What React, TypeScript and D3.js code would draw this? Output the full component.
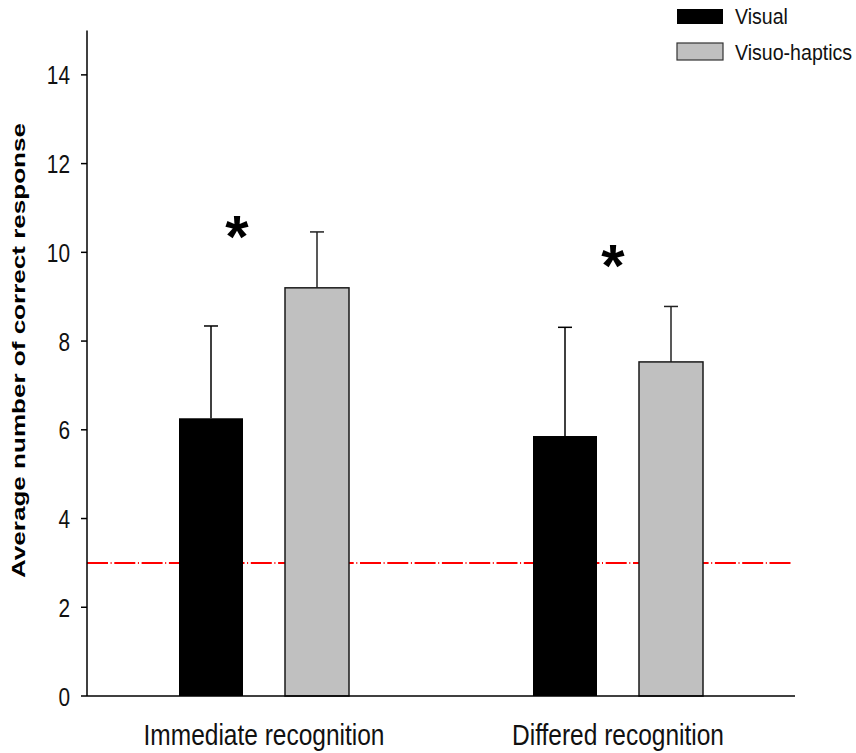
import React from "react";
import * as d3 from "d3";

// values
const groups = ["Immediate recognition", "Differed recognition"];
const series = ["Visual", "Visuo-haptics"];
const visualMeans = [6.26, 5.86];
const visualErrors = [2.08, 2.45];
const hapticMeans = [9.2, 7.53];
const hapticErrors = [1.26, 1.25];
const yTicks = [0, 2, 4, 6, 8, 10, 12, 14];
const chanceLevel = 3;
const starLevels = [10.6, 9.95];
const starShift = [-27, -5];

const seriesFill: Record<string, string> = { "Visual": "#000000", "Visuo-haptics": "#c0c0c0" };

const W = 856;
const H = 753;
const margin = { top: 30.5, right: 61, bottom: 57, left: 87 };
const font = "'Liberation Sans', Arial, Helvetica, sans-serif";

// narrow-looking text: draw at size and squeeze horizontally
function Squeezed(props: { x: number; y: number; sx: number; anchor?: string; size: number; children: any }) {
  return (
    <g transform={`translate(${props.x},${props.y}) scale(${props.sx},1)`}>
      <text textAnchor={props.anchor || "start"} fontFamily={font} fontSize={props.size} fill="#111">{props.children}</text>
    </g>
  );
}

export default function App() {
  const y = d3.scaleLinear().domain([0, 15]).range([H - margin.bottom, margin.top]);
  const x0 = d3.scaleBand().domain(groups).range([margin.left, W - margin.right]);
  const bw = x0.bandwidth();
  const x1 = d3.scaleBand().domain(series).range([(bw - 170) / 2, (bw + 170) / 2]).paddingInner(42 / 106);

  const rows = groups.map((g, i) => [
    { g, s: "Visual", v: visualMeans[i], e: visualErrors[i] },
    { g, s: "Visuo-haptics", v: hapticMeans[i], e: hapticErrors[i] },
  ]).flat();

  const y0 = y(0);
  const xLeft = margin.left;
  const xRight = W - margin.right;

  return (
    <svg width={W} height={H} style={{ position: "absolute", left: 0, top: 0, background: "#fff" }}>
      {/* chance level */}
      <line x1={xLeft} x2={xRight - 3} y1={y(chanceLevel)} y2={y(chanceLevel)}
        stroke="#ff0000" strokeWidth={2} strokeDasharray="21 2.6 1 2.7" />

      {/* bars */}
      {rows.map((d, i) => {
        const bx = (x0(d.g) as number) + (x1(d.s) as number);
        const cx = bx + x1.bandwidth() / 2;
        const isVis = d.s === "Visual";
        return (
          <g key={i}>
            <line x1={cx} x2={cx} y1={y(d.v)} y2={y(d.v + d.e)} stroke={isVis ? "#000" : "#222"} strokeWidth={1.5} />
            <line x1={cx - 7} x2={cx + 7} y1={y(d.v + d.e)} y2={y(d.v + d.e)} stroke={isVis ? "#000" : "#222"} strokeWidth={1.5} />
            <rect x={bx} y={y(d.v)} width={x1.bandwidth()} height={y0 - y(d.v)}
              fill={seriesFill[d.s]} stroke={isVis ? "none" : "#1a1a1a"} strokeWidth={1.5} />
          </g>
        );
      })}

      {/* significance stars */}
      {groups.map((g, i) => (
        <text key={g} x={(x0(g) as number) + bw / 2 + starShift[i]} y={y(starLevels[i]) + 31}
          textAnchor="middle" fontFamily={font} fontWeight="bold" fontSize={60} fill="#000">*</text>
      ))}

      {/* y axis */}
      <line x1={xLeft} x2={xLeft} y1={margin.top} y2={y0} stroke="#000" strokeWidth={1.5} />
      {yTicks.map(t => (
        <g key={t}>
          <line x1={xLeft - 6} x2={xLeft} y1={y(t)} y2={y(t)} stroke="#000" strokeWidth={1.5} />
          <Squeezed x={xLeft - 17} y={y(t) + 9.5} sx={0.8} anchor="end" size={26}>{t}</Squeezed>
        </g>
      ))}
      <text transform={`translate(25,${(123 + 578) / 2}) rotate(-90)`} textAnchor="middle"
        fontFamily={font} fontWeight="bold" fontSize={19} textLength={455} lengthAdjust="spacingAndGlyphs" fill="#000">
        Average number of correct response
      </text>

      {/* x axis */}
      <line x1={xLeft} x2={xRight} y1={y0} y2={y0} stroke="#000" strokeWidth={1.5} />
      {groups.map(g => (
        <Squeezed key={g} x={(x0(g) as number) + bw / 2} y={745} sx={0.845} anchor="middle" size={29}>{g}</Squeezed>
      ))}

      {/* legend */}
      {series.map((s, i) => (
        <g key={s} transform={`translate(677,${9 + i * 34})`}>
          <rect width={46} height={i === 0 ? 15 : 17} fill={seriesFill[s]} stroke="#333" strokeWidth={i === 0 ? 0 : 1.2} />
          <Squeezed x={58} y={i === 0 ? 14.5 : 16.5} sx={0.89} size={22}>{s}</Squeezed>
        </g>
      ))}
    </svg>
  );
}
